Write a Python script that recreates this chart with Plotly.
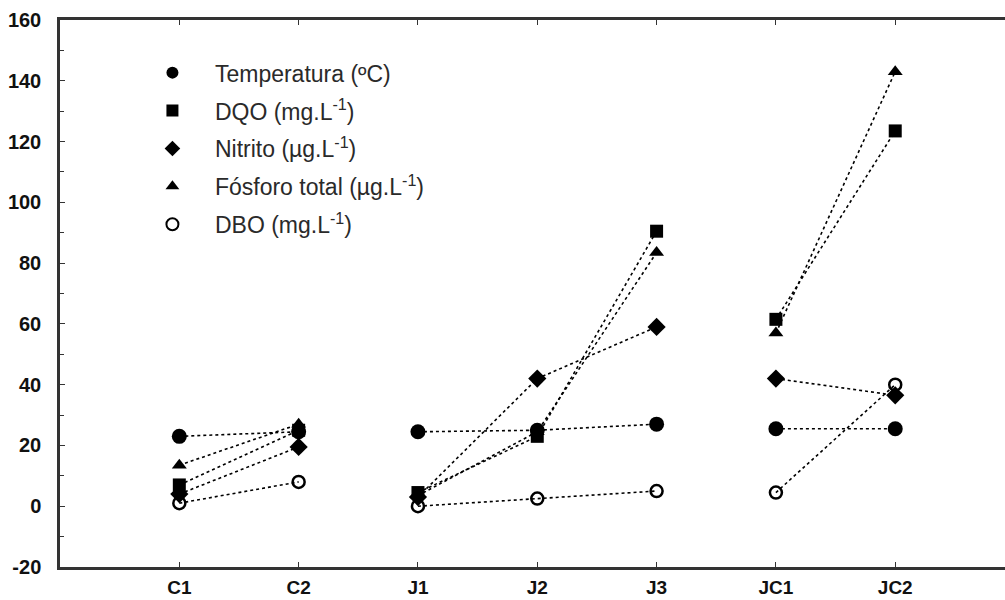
import plotly.graph_objects as go

categories = ["C1", "C2", None, "J1", "J2", "J3", None, "JC1", "JC2"]
temperatura = [23, 24.5, None, 24.5, 25, 27, None, 25.5, 25.5]
dqo = [7, 25, None, 4.5, 23, 90.5, None, 61.5, 123.5]
nitrito = [4, 19.5, None, 3, 42, 59, None, 42, 36.5]
fosforo = [13.5, 27, None, 3.5, 24.5, 83.5, None, 57, 143]
dbo = [1, 8, None, 0, 2.5, 5, None, 4.5, 40]

y_tickvals = [-20, 0, 20, 40, 60, 80, 100, 120, 140, 160]
y_ticktext = ["-20", "0", "20", "40", "60", "80", "100", "120", "140", "160"]

series = [
    ("Temperatura (ºC)", temperatura, dict(symbol="circle", size=15, color="black")),
    ("DQO (mg.L<sup>-1</sup>)", dqo, dict(symbol="square", size=13, color="black")),
    ("Nitrito (µg.L<sup>-1</sup>)", nitrito, dict(symbol="diamond", size=14, color="black")),
    ("Fósforo total (µg.L<sup>-1</sup>)", fosforo, dict(symbol="triangle-up", size=13, color="black")),
    ("DBO (mg.L<sup>-1</sup>)", dbo, dict(symbol="circle-open", size=12, color="black", line=dict(width=2.5))),
]

fig = go.Figure()
for name, vals, mk in series:
    fig.add_trace(go.Scatter(
        x=categories, y=vals, mode="lines+markers", name=name,
        line=dict(color="black", width=1.6, dash="dot"),
        marker=mk, showlegend=False, connectgaps=False,
    ))
for i, (name, vals, mk) in enumerate(series):
    fig.add_trace(go.Scatter(
        x=[None], y=[None], mode="markers", name=name, marker=mk,
        showlegend=True, legendgroup="g%d" % i,
    ))

order = [c for c in categories if c is not None]
fig.update_layout(
    width=1005, height=600,
    margin=dict(l=60, r=0, t=20, b=33, autoexpand=False),
    plot_bgcolor="white", paper_bgcolor="white",
    font=dict(family="Liberation Sans, Arial, sans-serif", color="#111"),
    legend=dict(x=0.074, y=0.943, xanchor="left", yanchor="top",
                bgcolor="rgba(0,0,0,0)", font=dict(size=23, color="#2a2a2a"),
                tracegroupgap=5, itemsizing="constant", itemwidth=75),
    xaxis=dict(type="category", categoryorder="array", categoryarray=order,
               range=[-1, 6.92], showgrid=False, zeroline=False,
               showline=True, linecolor="#333", linewidth=2.5, mirror="ticks",
               ticks="inside", ticklen=5, tickcolor="#333", ticklabelstandoff=1,
               tickfont=dict(size=19, weight="bold", color="#111")),
    yaxis=dict(range=[-20, 160], tickvals=y_tickvals, ticktext=y_ticktext,
               showgrid=False, zeroline=False,
               showline=True, linecolor="#333", linewidth=2.5,
               ticks="inside", ticklen=5, tickcolor="#333", ticklabelstandoff=12,
               minor=dict(dtick=10, ticks="inside", ticklen=4, tickcolor="#333"),
               tickfont=dict(size=20, weight="bold", color="#111")),
)
fig.write_html("out.html", config={"displayModeBar": False},
               post_script="document.body.style.margin='0';document.body.style.overflow='hidden';")
